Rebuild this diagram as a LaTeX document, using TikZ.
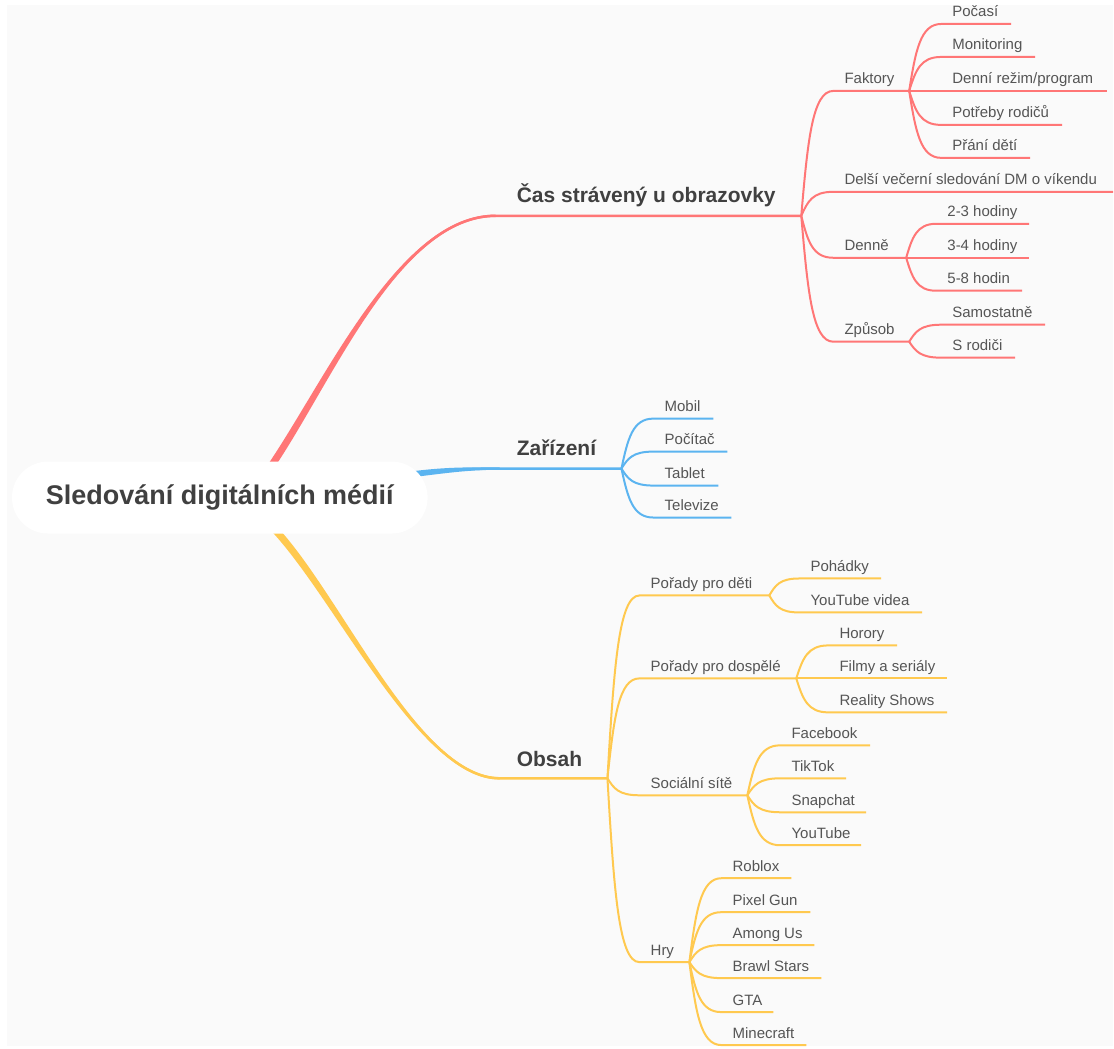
\documentclass[tikz,border=0pt]{standalone}
\usepackage{fontspec}
\setmainfont{Liberation Sans}
\usetikzlibrary{calc}
\definecolor{bg}{HTML}{FAFAFA}
\definecolor{cred}{HTML}{FF7676}
\definecolor{cblue}{HTML}{5BB4F0}
\definecolor{cyel}{HTML}{FFC94F}
\definecolor{tmain}{HTML}{404040}
\definecolor{tsub}{HTML}{555555}
\newcommand\mmconn[4]{\draw[#1] let \p1=(#2), \p2=(#3) in (\p1) .. controls ({\x1+0.2*(\x2-\x1)},{\y1+0.6*(\y2-\y1)}) and ({\x1+0.35*(\x2-\x1)},{\y2}) .. (\p2) -- (#4);}
\newcommand\mmleaf[7]{%
  \coordinate (#1s) at ({#3-11},#4);
  \coordinate (#1e) at (#5,#4);
  \node[sublab] (#1) at (#3,{#4-7}) {#6};
  \mmconn{#7}{#2}{#1s}{#1e}}
\begin{document}
\begin{tikzpicture}[x=0.75pt,y=-0.75pt,
  sublab/.style={font=\fontsize{11.25}{13}\selectfont, text=tsub, anchor=base west, inner sep=0pt},
  mainlab/.style={font=\fontsize{15.75}{18}\selectfont\bfseries, text=tmain, anchor=base west, inner sep=0pt},
  rootbox/.style={fill=white, rounded corners=27pt, minimum width=312pt, minimum height=54pt, inner sep=0pt,
    font=\fontsize{20.25}{24}\selectfont\bfseries, text=tmain},
  rsub/.style={draw=cred, line width=1.5pt},
  bsub/.style={draw=cblue, line width=1.5pt},
  ysub/.style={draw=cyel, line width=1.5pt},
  rmain/.style={draw=cred, line width=1.9pt},
  bmain/.style={draw=cblue, line width=1.9pt},
  ymain/.style={draw=cyel, line width=1.9pt}]
\fill[white] (0,0) rectangle (1114,1049);
\fill[bg] (7,5) rectangle (1114,1047);
% ---------- main branch coordinates
\coordinate (rs) at (271,467);
\coordinate (rh) at (496,216);
\coordinate (rf) at (802,216);
\coordinate (bs) at (410,475);
\coordinate (bh) at (500,469);
\coordinate (bf) at (622,469);
\coordinate (ys) at (275,530);
\coordinate (yh) at (500,779);
\coordinate (yf) at (608,779);
% red tapered branch
\fill[cred] ([shift={(-2.9,-2)}]rs) .. controls (327.1,378) and (400,214.8) .. ([shift={(0,-1.2)}]rh)
  -- ([shift={(0,1.2)}]rh) .. controls (400,217.2) and (332.9,382) .. ([shift={(2.9,2)}]rs) -- cycle;
\draw[rmain] (rs) .. controls (330,380) and (400,216) .. (rh) -- (rf);
% blue tapered branch
\fill[cblue] ([shift={(0,-3)}]bs) .. controls (450,467) and (470,467.8) .. ([shift={(0,-1.2)}]bh)
  -- ([shift={(0,1.2)}]bh) .. controls (470,470.2) and (450,473) .. ([shift={(0,3)}]bs) -- cycle;
\draw[bmain] (bs) .. controls (450,470) and (470,469) .. (bh) -- (bf);
% yellow tapered branch
\fill[cyel] ([shift={(2.6,-2.4)}]ys) .. controls (342.6,597.6) and (420,777.8) .. ([shift={(0,-1.2)}]yh)
  -- ([shift={(0,1.2)}]yh) .. controls (420,780.2) and (337.4,602.4) .. ([shift={(-2.6,2.4)}]ys) -- cycle;
\draw[ymain] (ys) .. controls (340,600) and (420,779) .. (yh) -- (yf);
% ---------- root and main labels
\node[rootbox] (root) at (220,498) {Sledování digitálních médií};
\node[mainlab] (cas) at (517,203) {Čas strávený u obrazovky};
\node[mainlab] (zar) at (517,456) {Zařízení};
\node[mainlab] (obs) at (517,767) {Obsah};
% ---------- red subtree
\mmleaf{fak}{rf}{845}{91}{910}{Faktory}{rsub}
\mmleaf{poc}{fake}{953}{24}{1012}{Počasí}{rsub}
\mmleaf{mon}{fake}{953}{57}{1036}{Monitoring}{rsub}
\mmleaf{den}{fake}{953}{91}{1108}{Denní režim/program}{rsub}
\mmleaf{pot}{fake}{953}{125}{1063}{Potřeby rodičů}{rsub}
\mmleaf{pra}{fake}{953}{158}{1031}{Přání dětí}{rsub}
\mmleaf{del}{rf}{845}{192}{1114}{Delší večerní sledování DM o víkendu}{rsub}
\mmleaf{dne}{rf}{845}{258}{907}{Denně}{rsub}
\mmleaf{hta}{dnee}{948}{224}{1030}{2-3 hodiny}{rsub}
\mmleaf{htb}{dnee}{948}{258}{1030}{3-4 hodiny}{rsub}
\mmleaf{htc}{dnee}{948}{291}{1023}{5-8 hodin}{rsub}
\mmleaf{zpu}{rf}{845}{342}{910}{Způsob}{rsub}
\mmleaf{sam}{zpue}{953}{325}{1046}{Samostatně}{rsub}
\mmleaf{srod}{zpue}{953}{358}{1016}{S rodiči}{rsub}
% ---------- blue subtree
\mmleaf{mob}{bf}{665}{419}{714}{Mobil}{bsub}
\mmleaf{poci}{bf}{665}{452}{728}{Počítač}{bsub}
\mmleaf{tab}{bf}{665}{486}{719}{Tablet}{bsub}
\mmleaf{tel}{bf}{665}{518}{732}{Televize}{bsub}
% ---------- yellow subtree
\mmleaf{pdet}{yf}{651}{596}{770}{Pořady pro děti}{ysub}
\mmleaf{poh}{pdete}{811}{579}{882}{Pohádky}{ysub}
\mmleaf{ytv}{pdete}{811}{613}{923}{YouTube videa}{ysub}
\mmleaf{pdos}{yf}{651}{679}{797}{Pořady pro dospělé}{ysub}
\mmleaf{hor}{pdose}{840}{646}{898}{Horory}{ysub}
\mmleaf{fil}{pdose}{840}{679}{948}{Filmy a seriály}{ysub}
\mmleaf{rea}{pdose}{840}{713}{948}{Reality Shows}{ysub}
\mmleaf{soc}{yf}{651}{796}{748}{Sociální sítě}{ysub}
\mmleaf{fb}{soce}{792}{746}{871}{Facebook}{ysub}
\mmleaf{tt}{soce}{792}{779}{847}{TikTok}{ysub}
\mmleaf{sc}{soce}{792}{813}{867}{Snapchat}{ysub}
\mmleaf{yt}{soce}{792}{846}{862}{YouTube}{ysub}
\mmleaf{hry}{yf}{651}{963}{690}{Hry}{ysub}
\mmleaf{rob}{hrye}{733}{879}{792}{Roblox}{ysub}
\mmleaf{pix}{hrye}{733}{913}{811}{Pixel Gun}{ysub}
\mmleaf{amo}{hrye}{733}{946}{815}{Among Us}{ysub}
\mmleaf{bra}{hrye}{733}{979}{822}{Brawl Stars}{ysub}
\mmleaf{gta}{hrye}{733}{1013}{774}{GTA}{ysub}
\mmleaf{mcr}{hrye}{733}{1046}{807}{Minecraft}{ysub}
\end{tikzpicture}
\end{document}
